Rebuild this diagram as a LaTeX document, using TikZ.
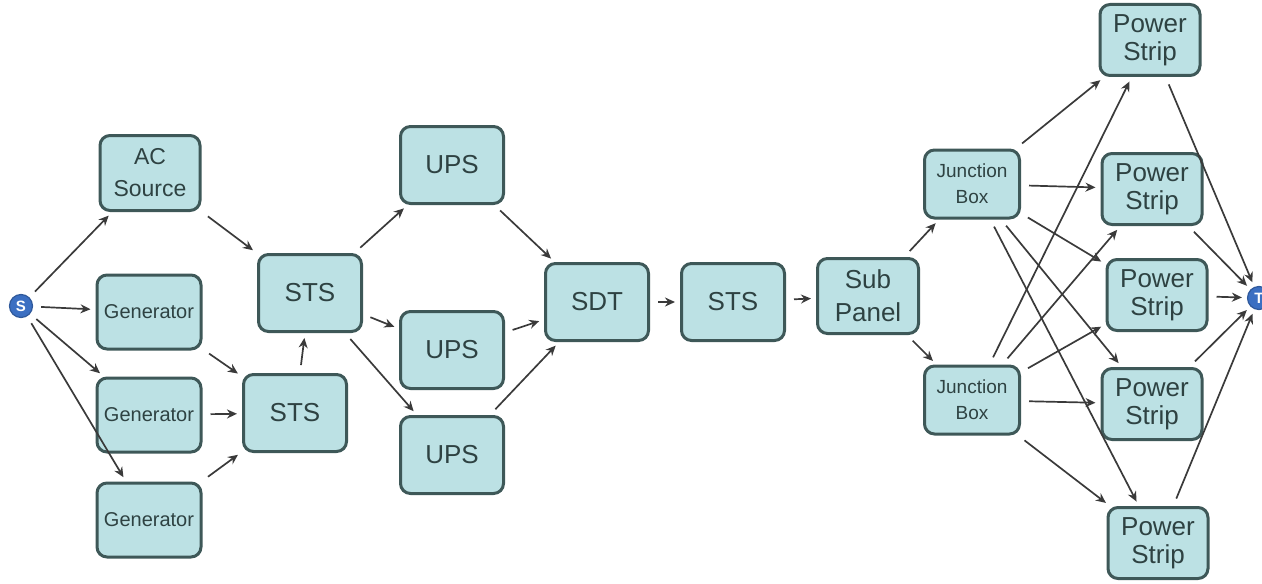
\documentclass[tikz,border=0pt]{standalone}
\usepackage{fontspec}
\setmainfont{Liberation Sans}
\usetikzlibrary{arrows.meta}
\definecolor{boxfill}{HTML}{BCE1E4}
\definecolor{boxline}{HTML}{3E5858}
\definecolor{boxtext}{HTML}{2E4242}
\definecolor{wire}{HTML}{3A3A3A}
\definecolor{term}{HTML}{3B6FC2}

\begin{document}
\begin{tikzpicture}[x=0.5pt,y=-0.5pt,
  box/.style={draw=boxline, line width=1.5pt, fill=boxfill, rounded corners=5pt,
    inner sep=0pt, align=center, text=boxtext},
  unit/.style={box, minimum width=51.5pt, minimum height=38.5pt,
    font=\fontsize{13}{15}\selectfont},
  acbox/.style={box, minimum width=50pt, minimum height=37.5pt,
    font=\fontsize{11.5}{16}\selectfont},
  genbox/.style={box, minimum width=52pt, minimum height=37pt,
    font=\fontsize{10}{12}\selectfont},
  subbox/.style={box, minimum width=50.5pt, minimum height=37.5pt,
    font=\fontsize{13}{16.5}\selectfont},
  jbox/.style={box, minimum width=47.5pt, minimum height=34pt,
    font=\fontsize{9.5}{13}\selectfont},
  psbox/.style={box, minimum width=50pt, minimum height=35.5pt,
    font=\fontsize{13}{14}\selectfont},
  terminal/.style={circle, fill=term, draw=term!80!black, line width=0.6pt,
    minimum size=11.5pt, inner sep=0pt, text=white,
    font=\fontsize{7.5}{7.5}\selectfont\bfseries},
  link/.style={draw=wire, line width=0.85pt,
    -{Stealth[length=5pt,width=4.5pt]}, shorten <=4pt, shorten >=2.5pt}
]
\useasboundingbox (0,0) rectangle (1262,583);

% source and sink terminals
\node[terminal] (s) at (21,306) {S};
\node[terminal] (t) at (1259,298) {T};

% supply side
\node[acbox] (ac) at (150,173) {AC\\Source};
\node[genbox] (g1) at (149,312) {Generator};
\node[genbox] (g2) at (149,415) {Generator};
\node[genbox] (g3) at (149,520) {Generator};

% transfer switches
\node[unit] (sts1) at (310,293) {STS};
\node[unit] (sts2) at (295,413) {STS};

% UPS bank
\node[unit] (ups1) at (452,165) {UPS};
\node[unit] (ups2) at (452,350) {UPS};
\node[unit] (ups3) at (452,455) {UPS};

% distribution chain
\node[unit] (sdt) at (597,302) {SDT};
\node[unit] (sts3) at (733,302) {STS};
\node[subbox] (sub) at (868,296) {Sub\\Panel};

% junction boxes
\node[jbox] (jb1) at (972,184) {Junction\\Box};
\node[jbox] (jb2) at (972,400) {Junction\\Box};

% power strips
\node[psbox] (ps1) at (1150,40) {Power\\Strip};
\node[psbox] (ps2) at (1152,189) {Power\\Strip};
\node[psbox] (ps3) at (1157,295) {Power\\Strip};
\node[psbox] (ps4) at (1152,404) {Power\\Strip};
\node[psbox] (ps5) at (1158,543) {Power\\Strip};

% connections
\foreach \a/\b in {s/ac, s/g1, s/g2, s/g3,
                   ac/sts1, g1/sts2, g2/sts2, g3/sts2, sts2/sts1,
                   sts1/ups1, sts1/ups2, sts1/ups3,
                   ups1/sdt, ups2/sdt, ups3/sdt,
                   sdt/sts3, sts3/sub, sub/jb1, sub/jb2,
                   jb1/ps1, jb1/ps2, jb1/ps3, jb1/ps4, jb1/ps5,
                   jb2/ps1, jb2/ps2, jb2/ps3, jb2/ps4, jb2/ps5,
                   ps1/t, ps2/t, ps3/t, ps4/t, ps5/t}
  \draw[link] (\a) -- (\b);
\end{tikzpicture}
\end{document}
